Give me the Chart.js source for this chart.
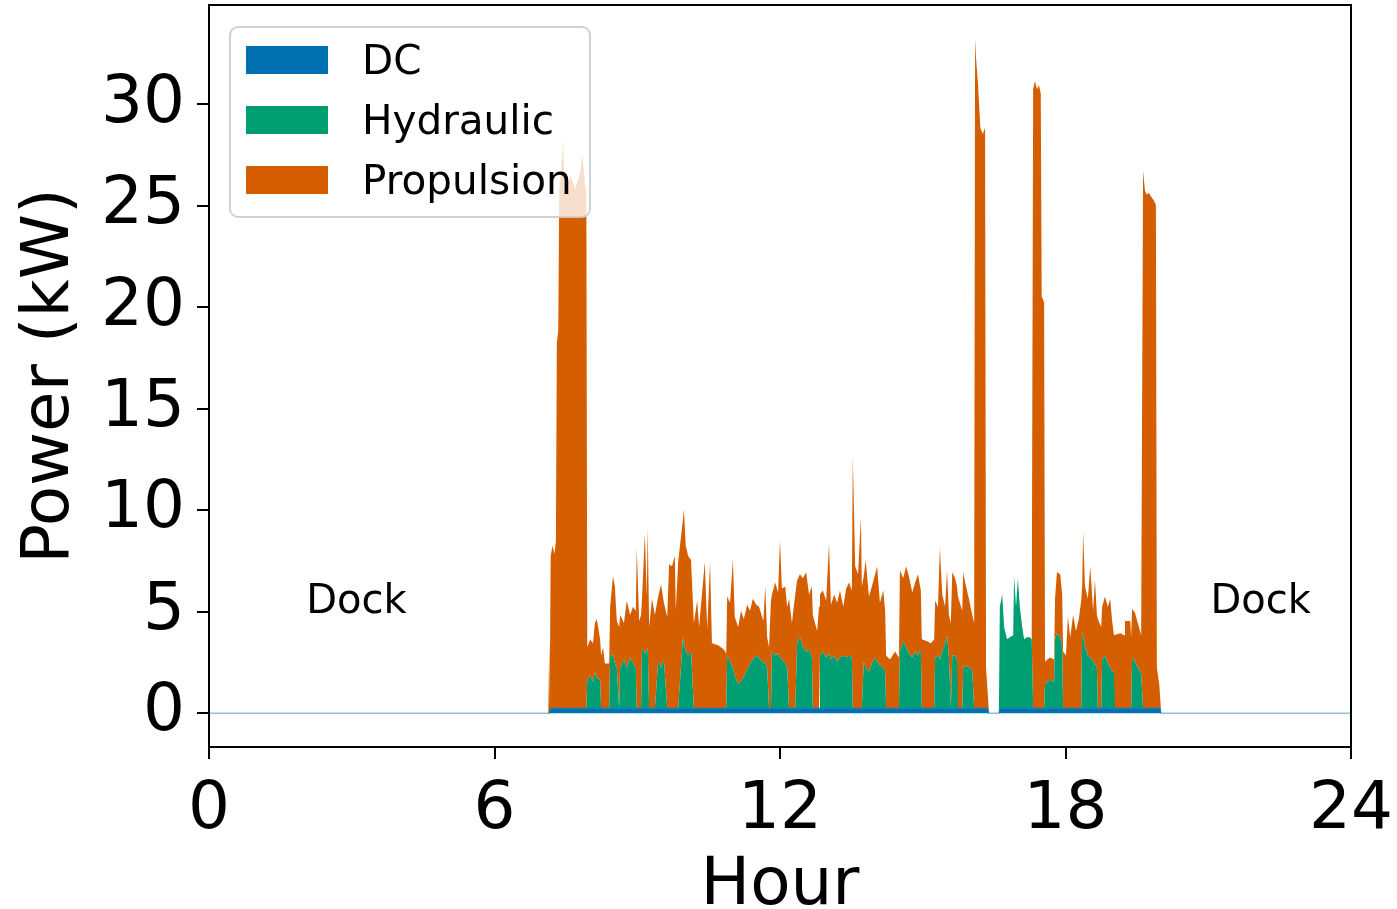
<!DOCTYPE html>
<html>
<head>
<meta charset="utf-8">
<title>Power by hour</title>
<script src="https://cdn.jsdelivr.net/npm/chart.js@4.4.1/dist/chart.umd.min.js"></script>
<style>
  html, body { margin: 0; padding: 0; background: #fff; }
  #wrap { width: 1397px; height: 909px; }
</style>
</head>
<body>
<div id="wrap"><canvas id="powerChart" width="1397" height="909"></canvas></div>
<script>
// --- data (hour of day, kW) ---
const hours = [
    0, 7.13, 7.15, 7.16, 7.18, 7.22, 7.26, 7.29, 7.31, 7.34, 7.36, 7.40, 7.44, 7.47, 7.52, 7.60, 7.70, 7.80, 7.85, 7.90, 7.93,
    7.95, 8.01, 8.07, 8.11, 8.15, 8.22, 8.24, 8.28, 8.32, 8.41, 8.43, 8.49, 8.53, 8.57, 8.62, 8.64, 8.72, 8.78, 8.85, 8.91, 8.97,
    8.99, 9.04, 9.08, 9.10, 9.16, 9.20, 9.22, 9.25, 9.31, 9.37, 9.44, 9.50, 9.56, 9.63, 9.67, 9.73, 9.79, 9.81, 9.86, 9.96, 9.98, 10.02, 10.07, 10.13,
    10.19, 10.26, 10.30, 10.42, 10.47, 10.53, 10.57, 10.70, 10.82, 10.87, 10.89, 10.95, 11.01, 11.05, 11.12, 11.18, 11.24, 11.31, 11.37, 11.43, 11.50, 11.56, 11.65, 11.69, 11.73, 11.77, 11.81,
    11.83, 11.90, 11.96, 12.00, 12.04, 12.11, 12.15, 12.19, 12.25, 12.32, 12.36, 12.42, 12.48, 12.55, 12.61, 12.67, 12.69, 12.78, 12.82,
    12.84, 12.90, 12.97, 13.03, 13.07, 13.14, 13.20, 13.26, 13.33, 13.39, 13.45, 13.51, 13.53, 13.58, 13.64, 13.70, 13.72, 13.76, 13.80, 13.87, 13.93, 14.00, 14.04, 14.10, 14.17, 14.21,
    14.23, 14.31, 14.42, 14.50, 14.52, 14.59, 14.65, 14.71, 14.78, 14.84, 14.90, 14.96, 14.98, 15.09, 15.17, 15.24,
    15.26, 15.32, 15.36, 15.41, 15.47, 15.51, 15.55, 15.59, 15.62, 15.68, 15.72, 15.74, 15.83, 15.85, 15.91, 15.97, 16.04, 16.08, 16.10, 16.12, 16.16, 16.19, 16.21, 16.26, 16.31, 16.33, 16.37,
    16.39, 16.60, 16.62, 16.67, 16.71, 16.77, 16.83, 16.90, 16.92, 16.96, 17.00, 17.04, 17.09, 17.13, 17.19, 17.25, 17.29,
    17.32, 17.36, 17.40, 17.44, 17.48, 17.50, 17.55, 17.57, 17.67, 17.76, 17.78, 17.82, 17.89, 17.93, 17.95, 18.01, 18.05, 18.10, 18.16, 18.22, 18.28, 18.33,
    18.35, 18.37, 18.41, 18.47, 18.52, 18.58, 18.62, 18.66, 18.68, 18.75, 18.77, 18.83, 18.89, 18.94, 18.98, 19.02, 19.04, 19.15, 19.23, 19.25, 19.36, 19.38, 19.40, 19.46, 19.52, 19.59,
    19.63, 19.67, 19.71, 19.75, 19.80, 19.86, 19.90, 19.92, 19.97, 19.99, 20.01, 24
];

const dcKW = [
    0, 0, 0, 0, .25, .25, .25, .25, .25, .25, .25, .25, .25, .25, .25, .25, .25, .25, .25, .25, .25,
    .25, .25, .25, .25, .25, .25, .25, .25, .25, .25, .25, .25, .25, .25, .25, .25, .25, .25, .25, .25, .25,
    .25, .25, .25, .25, .25, .25, .25, .25, .25, .25, .25, .25, .25, .25, .25, .25, .25, .25, .25, .25, .25, .25, .25, .25,
    .25, .25, .25, .25, .25, .25, .25, .25, .25, .25, .25, .25, .25, .25, .25, .25, .25, .25, .25, .25, .25, .25, .25, .25, .25, .25, .25,
    .25, .25, .25, .25, .25, .25, .25, .25, .25, .25, .25, .25, .25, .25, .25, .25, .25, .25, .25,
    .25, .25, .25, .25, .25, .25, .25, .25, .25, .25, .25, .25, .25, .25, .25, .25, .25, .25, .25, .25, .25, .25, .25, .25, .25, .25,
    .25, .25, .25, .25, .25, .25, .25, .25, .25, .25, .25, .25, .25, .25, .25, .25,
    .25, .25, .25, .25, .25, .25, .25, .25, .25, .25, .25, .25, .25, .25, .25, .25, .25, .25, .25, .25, .25, .25, .25, .25, .25, .25, .25,
    0, 0, .25, .25, .25, .25, .25, .25, .25, .25, .25, .25, .25, .25, .25, .25, .25,
    .25, .25, .25, .25, .25, .25, .25, .25, .25, .25, .25, .25, .25, .25, .25, .25, .25, .25, .25, .25, .25, .25,
    .25, .25, .25, .25, .25, .25, .25, .25, .25, .25, .25, .25, .25, .25, .25, .25, .25, .25, .25, .25, .25, .25, .25, .25, .25, .25,
    .25, .25, .25, .25, .25, .25, .25, .25, .25, .25, 0, 0
];

const hydraulicKW = [
    0, 0, 0, 0, 0, 0, 0, 0, 0, 0, 0, 0, 0, 0, 0, 0, 0, 0, 0, 0, 0,
    1.4, 1.6, 1.3, 1.8, 1.5, 1.4, 0, 0, 0, 0, 2.5, 2.7, 2.2, 2.0, 0, 2.0, 2.4, 2.0, 2.5, 2.2, 2.0,
    0, 0, 0, 3.0, 2.7, 2.8, 3.0, 0, 0, 0, 2.3, 2.0, 2.4, 0, 0, 0, 0, 0, 0, 3.5, 3.2, 2.8, 2.6, 2.8,
    0, 0, 0, 0, 0, 0, 0, 0, 0, 0, 2.6, 2.3, 2.0, 1.6, 1.2, 1.3, 1.6, 1.9, 2.2, 2.4, 2.6, 2.5, 2.2, 2.3, 2.0, 0, 0,
    2.8, 2.6, 2.7, 2.5, 2.4, 2.2, 2.0, 0, 0, 0, 3.2, 3.5, 3.0, 2.8, 2.9, 2.5, 0, 0, 0,
    2.6, 2.8, 2.5, 2.7, 2.4, 2.6, 2.3, 2.5, 2.6, 2.5, 2.6, 2.5, 0, 0, 0, 0, 0, 2.3, 2.0, 1.8, 2.2, 2.5, 2.3, 2.1, 2.0, 1.8,
    0, 0, 0, 0, 2.8, 3.3, 3.0, 2.7, 2.5, 2.8, 2.6, 2.9, 0, 0, 0, 0,
    2.5, 2.6, 2.4, 2.8, 3.2, 3.6, 2.5, 0, 2.6, 2.6, 2.4, 0, 0, 2.0, 2.1, 2.0, 1.9, 0, 0, 0, 0, 0, 0, 0, 0, 0, 0,
    0, 0, 5.0, 5.6, 4.0, 3.4, 3.5, 3.6, 6.5, 5.0, 6.4, 5.0, 4.0, 3.4, 3.5, 3.5, 3.4,
    0, 0, 0, 0, 0, 0, 0, 1.2, 1.4, 1.3, 3.4, 3.7, 3.5, 3.0, 0, 0, 0, 0, 0, 0, 0, 0,
    3.8, 3.5, 3.0, 2.6, 2.5, 2.3, 2.2, 2.0, 0, 0, 2.4, 2.6, 2.2, 2.0, 1.8, 1.8, 0, 0, 0, 0, 0, 0, 2.5, 2.3, 2.0, 1.7,
    0, 0, 0, 0, 0, 0, 0, 0, 0, 0, 0, 0
];

const propulsionKW = [
    0, 0, 3.6, 0.3, 7.5, 8.0, 7.6, 8.2, 18.0, 18.6, 25.5, 26.5, 28.0, 26.0, 25.8, 26.2, 25.6, 26.4, 27.3, 25.8, 25.5,
    1.6, 1.8, 1.9, 2.4, 2.9, 2.0, 2.6, 3.0, 2.2, 2.2, 2.5, 3.8, 3.8, 2.3, 4.0, 2.6, 1.8, 3.3, 2.1, 2.8, 2.8,
    7.9, 4.3, 4.6, 2.4, 5.9, 2.7, 5.9, 4.0, 5.4, 4.6, 3.2, 4.1, 2.8, 4.5, 7.1, 7.0, 7.5, 4.8, 7.2, 5.8, 6.6, 5.2, 4.9, 4.5,
    4.2, 5.3, 4.0, 7.2, 3.9, 7.2, 3.2, 3.1, 2.9, 2.7, 2.9, 2.9, 5.3, 2.9, 2.8, 3.5, 2.8, 3.2, 2.6, 3.0, 2.5, 2.5, 2.1, 3.7, 1.5, 3.0, 5.3,
    2.8, 3.6, 3.0, 5.8, 3.5, 3.8, 3.0, 5.4, 4.2, 5.6, 3.1, 3.1, 3.4, 3.9, 2.7, 3.5, 4.6, 3.8, 5.0,
    3.0, 3.0, 2.8, 5.4, 2.7, 3.0, 2.9, 3.3, 2.4, 3.4, 3.6, 3.3, 12.4, 7.0, 6.6, 9.4, 6.0, 4.2, 5.3, 3.7, 3.8, 4.1, 4.7, 3.1, 3.8, 3.0,
    2.6, 2.4, 2.8, 2.5, 4.0, 3.1, 4.0, 3.8, 3.2, 3.4, 4.0, 2.9, 3.4, 3.3, 3.2, 3.4,
    2.8, 2.4, 5.5, 2.8, 1.8, 3.2, 2.1, 4.2, 4.1, 3.8, 3.6, 5.5, 4.8, 4.7, 3.9, 3.4, 2.7, 4.2, 33.0, 32.0, 30.8, 29.5, 28.6, 28.3, 28.6, 2.0, 0.6,
    0, 0, 0, 0, 0, 0, 0, 0, 0, 0, 0, 0, 0, 0, 0, 0, 0,
    30.5, 30.9, 30.5, 30.7, 30.3, 20.3, 20.0, 1.1, 1.1, 1.1, 2.0, 3.0, 3.1, 2.6, 2.8, 2.6, 4.5, 3.5, 4.6, 3.8, 4.4, 5.3,
    2.2, 5.2, 3.0, 2.8, 4.5, 2.5, 4.1, 2.6, 4.4, 4.0, 2.6, 2.9, 2.8, 3.4, 2.5, 1.8, 3.6, 3.7, 3.6, 4.3, 4.3, 3.5, 2.4, 2.4, 2.2, 1.9,
    26.5, 25.5, 25.3, 25.4, 25.2, 25.0, 24.8, 2.0, 1.2, 0.5, 0, 0
];

const seriesNames = ['DC', 'Hydraulic', 'Propulsion'];
const seriesColors = ['#0072B2', '#009E73', '#D55E00'];
const xTicks = [0, 6, 12, 18, 24];
const yTicks = [0, 5, 10, 15, 20, 25, 30];
const dockLabels = [
    { hour: 3.1, kw: 5.6, text: 'Dock' },
    { hour: 22.1, kw: 5.6, text: 'Dock' }
];

Chart.defaults.font.family = "'DejaVu Sans', sans-serif";
Chart.defaults.color = '#000';

function toPoints(values) {
    return hours.map(function(h, i) { return { x: h, y: values[i] }; });
}

// frame, dock notes and the legend box inside the plot
const extras = {
    id: 'extras',
    afterDatasetsDraw(chart) {
        const { ctx, chartArea, scales } = chart;
        ctx.save();
        ctx.font = '40px "DejaVu Sans"';
        ctx.fillStyle = '#000';
        ctx.textAlign = 'center';
        ctx.textBaseline = 'middle';
        dockLabels.forEach(function(d) {
            ctx.fillText(d.text, scales.x.getPixelForValue(d.hour), scales.y.getPixelForValue(d.kw) + 3);
        });
        ctx.strokeStyle = '#000';
        ctx.lineWidth = 2;
        ctx.strokeRect(chartArea.left, chartArea.top, chartArea.right - chartArea.left, chartArea.bottom - chartArea.top);
        ctx.restore();
    },
    afterDraw(chart) {
        const { ctx, chartArea } = chart;
        const x = chartArea.left + 21, y = chartArea.top + 22, w = 360, h = 190;
        ctx.save();
        ctx.beginPath();
        ctx.roundRect(x, y, w, h, 8);
        ctx.fillStyle = 'rgba(255,255,255,0.8)';
        ctx.fill();
        ctx.strokeStyle = 'rgba(204,204,204,0.9)';
        ctx.lineWidth = 2;
        ctx.stroke();
        ctx.font = '40.5px "DejaVu Sans"';
        ctx.textAlign = 'left';
        ctx.textBaseline = 'middle';
        chart.data.datasets.forEach(function(ds, i) {
            const rowY = y + 33 + i * 60;
            ctx.fillStyle = ds.backgroundColor;
            ctx.fillRect(x + 16, rowY - 14, 82, 28);
            ctx.fillStyle = '#000';
            ctx.fillText(ds.label, x + 132, rowY + 3);
        });
        ctx.restore();
    }
};

new Chart(document.getElementById('powerChart'), {
    type: 'line',
    data: {
        datasets: [
            {
                label: seriesNames[0],
                data: toPoints(dcKW),
                backgroundColor: seriesColors[0],
                borderColor: 'rgba(0,114,178,0.45)',
                borderWidth: 1.5,
                fill: 'origin'
            },
            {
                label: seriesNames[1],
                data: toPoints(hydraulicKW),
                backgroundColor: seriesColors[1],
                borderColor: 'rgba(0,0,0,0)',
                borderWidth: 1,
                fill: '-1'
            },
            {
                label: seriesNames[2],
                data: toPoints(propulsionKW),
                backgroundColor: seriesColors[2],
                borderColor: 'rgba(0,0,0,0)',
                borderWidth: 1,
                fill: '-1'
            }
        ]
    },
    options: {
        responsive: false,
        animation: false,
        layout: { padding: { left: 0, top: 5, right: 46, bottom: 0 } },
        elements: { point: { radius: 0 }, line: { tension: 0 } },
        plugins: {
            legend: { display: false },
            tooltip: { enabled: false }
        },
        scales: {
            x: {
                type: 'linear',
                min: 0,
                max: 24,
                afterBuildTicks: function(axis) { axis.ticks = xTicks.map(function(v) { return { value: v }; }); },
                afterFit: function(axis) {
                    axis.height = 162;
                    axis.paddingLeft = 0;
                    axis.paddingRight = 0;
                },
                grid: { drawOnChartArea: false, color: '#000', lineWidth: 2, tickLength: 12 },
                border: { color: '#000', width: 2 },
                ticks: { font: { size: 66 }, padding: 12, maxRotation: 0 },
                title: { display: true, text: 'Hour', font: { size: 66, lineHeight: 0.67 }, padding: 0 }
            },
            y: {
                stacked: true,
                min: -1.66,
                max: 34.9,
                afterBuildTicks: function(axis) { axis.ticks = yTicks.map(function(v) { return { value: v }; }); },
                afterFit: function(axis) {
                    axis.width = 209;
                    axis.paddingTop = 0;
                    axis.paddingBottom = 0;
                },
                grid: { drawOnChartArea: false, color: '#000', lineWidth: 2, tickLength: 12 },
                border: { color: '#000', width: 2 },
                ticks: { font: { size: 66 }, padding: 12 },
                title: { display: true, text: 'Power (kW)', font: { size: 66, lineHeight: 1 }, padding: { top: 18, bottom: 0 } }
            }
        }
    },
    plugins: [extras]
});
</script>
</body>
</html>
